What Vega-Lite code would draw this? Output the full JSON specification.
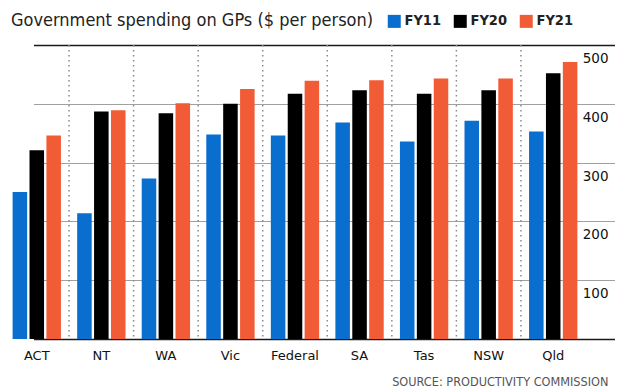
{
  "$schema": "https://vega.github.io/schema/vega-lite/v6.json",
  "width": 599,
  "height": 294,
  "autosize": {"type": "none"},
  "padding": {"left": 10, "top": 45, "right": 11, "bottom": 53},
  "background": "white",
  "title": {
    "text": "Government spending on GPs ($ per person)",
    "anchor": "start",
    "font": "DejaVu Sans Condensed, sans-serif",
    "fontSize": 18,
    "fontWeight": "normal",
    "color": "#222222",
    "offset": 12,
    "dx": 1,
    "dy": 28
  },
  "config": {"view": {"stroke": null}},
  "layer": [
    {
      "data": {
        "values": [
          {"state": "NT"}, {"state": "WA"}, {"state": "Vic"}, {"state": "Federal"},
          {"state": "SA"}, {"state": "Tas"}, {"state": "NSW"}, {"state": "Qld"}
        ]
      },
      "mark": {"type": "rule", "color": "#8a8a8a", "strokeWidth": 1.5, "strokeDash": [1.5, 3.5]},
      "encoding": {
        "x": {"field": "state", "type": "nominal", "bandPosition": 0}
      }
    },
    {
      "data": {
        "values": [
          {"state": "ACT", "year": "FY11", "value": 250},
          {"state": "ACT", "year": "FY20", "value": 321},
          {"state": "ACT", "year": "FY21", "value": 346},
          {"state": "NT", "year": "FY11", "value": 214},
          {"state": "NT", "year": "FY20", "value": 387},
          {"state": "NT", "year": "FY21", "value": 389},
          {"state": "WA", "year": "FY11", "value": 273},
          {"state": "WA", "year": "FY20", "value": 384},
          {"state": "WA", "year": "FY21", "value": 401},
          {"state": "Vic", "year": "FY11", "value": 348},
          {"state": "Vic", "year": "FY20", "value": 400},
          {"state": "Vic", "year": "FY21", "value": 425},
          {"state": "Federal", "year": "FY11", "value": 346},
          {"state": "Federal", "year": "FY20", "value": 417},
          {"state": "Federal", "year": "FY21", "value": 439},
          {"state": "SA", "year": "FY11", "value": 368},
          {"state": "SA", "year": "FY20", "value": 423},
          {"state": "SA", "year": "FY21", "value": 440},
          {"state": "Tas", "year": "FY11", "value": 336},
          {"state": "Tas", "year": "FY20", "value": 417},
          {"state": "Tas", "year": "FY21", "value": 443},
          {"state": "NSW", "year": "FY11", "value": 371},
          {"state": "NSW", "year": "FY20", "value": 423},
          {"state": "NSW", "year": "FY21", "value": 443},
          {"state": "Qld", "year": "FY11", "value": 353},
          {"state": "Qld", "year": "FY20", "value": 452},
          {"state": "Qld", "year": "FY21", "value": 471}
        ]
      },
      "mark": {"type": "bar"},
      "encoding": {
        "x": {"field": "state", "type": "nominal"},
        "xOffset": {
          "field": "year", "type": "nominal",
          "scale": {"paddingInner": 0.14, "paddingOuter": 0.48}
        },
        "y": {
          "field": "value", "type": "quantitative",
          "scale": {"domain": [0, 500], "nice": false},
          "axis": {
            "orient": "right",
            "values": [0, 100, 200, 300, 400, 500],
            "labelExpr": "datum.value === 0 ? '' : datum.label",
            "grid": true,
            "gridColor": {"condition": {"test": "datum.value === 500 || datum.value === 0", "value": "#1a1a1a"}, "value": "#a0a0a0"},
            "gridWidth": {"condition": {"test": "datum.value === 500 || datum.value === 0", "value": 1.6}, "value": 1.1},
            "domain": false,
            "ticks": false,
            "tickSize": 0,
            "labelAlign": "right",
            "labelPadding": -1,
            "labelBaseline": "top",
            "labelOffset": 6.5,
            "labelFont": "DejaVu Sans",
            "labelFontSize": 13.5,
            "labelColor": "#111111",
            "title": null
          }
        },
        "color": {
          "field": "year", "type": "nominal",
          "scale": {"domain": ["FY11", "FY20", "FY21"], "range": ["#0A6ECF", "#000000", "#F15B36"]},
          "legend": {
            "title": null,
            "orient": "none",
            "legendX": 377,
            "legendY": -31,
            "direction": "horizontal",
            "symbolType": "square",
            "symbolSize": 169,
            "symbolStrokeWidth": 0,
            "symbolOpacity": 1,
            "labelFont": "DejaVu Sans Condensed, sans-serif",
            "labelFontWeight": "bold",
            "labelFontSize": 14.5,
            "labelColor": "#222222",
            "labelOffset": 3,
            "columnPadding": 11
          }
        }
      }
    }
  ],
  "resolve": {"scale": {"x": "shared"}},
  "encoding": {
    "x": {
      "field": "state", "type": "nominal",
      "scale": {
        "domain": ["ACT", "NT", "WA", "Vic", "Federal", "SA", "Tas", "NSW", "Qld"],
        "range": [-5.5, 575.5],
        "paddingInner": 0, "paddingOuter": 0
      },
      "axis": {
        "orient": "bottom",
        "domain": false,
        "ticks": false,
        "tickSize": 0,
        "grid": false,
        "labelAngle": 0,
        "labelPadding": 10,
        "labelBaseline": "top",
        "labelFont": "DejaVu Sans",
        "labelFontSize": 13,
        "labelColor": "#111111",
        "title": "SOURCE: PRODUCTIVITY COMMISSION",
        "titleFont": "DejaVu Sans Condensed, sans-serif",
        "titleFontSize": 12.6,
        "titleFontWeight": "normal",
        "titleColor": "#555555",
        "titleAlign": "right",
        "titleAnchor": "end",
        "titleBaseline": "alphabetic",
        "titleX": 598,
        "titleY": 46
      }
    }
  }
}
